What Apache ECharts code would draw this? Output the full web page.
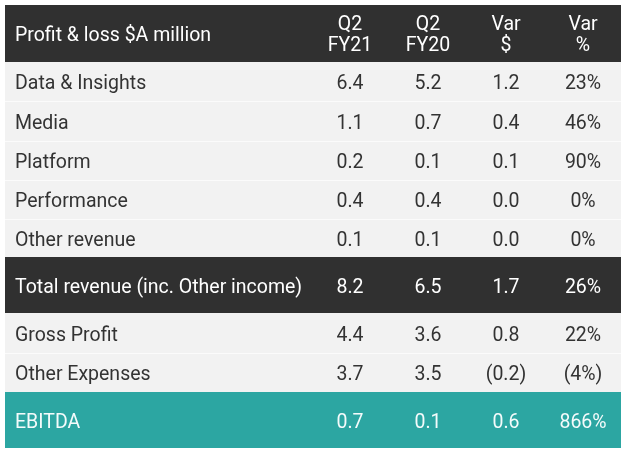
<!DOCTYPE html>
<html>
<head>
<meta charset="utf-8">
<script src="https://cdn.jsdelivr.net/npm/echarts@6/dist/echarts.min.js"></script>
<style>
html,body{margin:0;padding:0;background:#fff;}
#main{width:630px;height:456px;}
</style>
</head>
<body>
<div id="main"></div>
<script>
// ---- data ----
var headerLabel = 'Profit & loss $A million';
var columnHeaders = ['Q2\nFY21', 'Q2\nFY20', 'Var\n$', 'Var\n%'];
var rowLabels = ['Data & Insights', 'Media', 'Platform', 'Performance', 'Other revenue',
  'Total revenue (inc. Other income)', 'Gross Profit', 'Other Expenses', 'EBITDA'];
var q2fy21 = ['6.4', '1.1', '0.2', '0.4', '0.1', '8.2', '4.4', '3.7', '0.7'];
var q2fy20 = ['5.2', '0.7', '0.1', '0.4', '0.1', '6.5', '3.6', '3.5', '0.1'];
var varDollar = ['1.2', '0.4', '0.1', '0.0', '0.0', '1.7', '0.8', '(0.2)', '0.6'];
var varPct = ['23%', '46%', '90%', '0%', '0%', '26%', '22%', '(4%)', '866%'];
var rowKinds = ['normal', 'normal', 'normal', 'normal', 'normal', 'total', 'normal', 'normal', 'ebitda'];

// ---- layout (styles) ----
var colEdges = [0, 306, 384, 462, 540, 616];
var headerH = 57;
var rowHeights = [39, 40, 39, 39, 38, 56, 40, 39, 56];
var styles = {
  header: { bg: '#303030', fg: '#ffffff' },
  normal: { bg: '#f2f2f2', fg: '#333333' },
  total: { bg: '#303030', fg: '#ffffff' },
  ebitda: { bg: '#2ca6a2', fg: '#f4fbfb' }
};
var FONT = 'Roboto, "Liberation Sans", sans-serif';
var FS = 19.5;

var rowTops = [];
var acc = headerH;
for (var i = 0; i < rowHeights.length; i++) { rowTops.push(acc); acc += rowHeights[i]; }
var totalH = acc;

var rows = [];
rows.push({ kind: 'header', cells: [headerLabel].concat(columnHeaders), top: 0, h: headerH });
for (var r = 0; r < rowLabels.length; r++) {
  rows.push({ kind: rowKinds[r], cells: [rowLabels[r], q2fy21[r], q2fy20[r], varDollar[r], varPct[r]], top: rowTops[r], h: rowHeights[r] });
}

function renderRow(params, api) {
  var row = rows[api.value(0)];
  var st = styles[row.kind];
  var p0 = api.coord([colEdges[0], row.top]);
  var p1 = api.coord([colEdges[colEdges.length - 1], row.top + row.h]);
  var children = [{
    type: 'rect',
    shape: { x: p0[0], y: p0[1], width: p1[0] - p0[0], height: p1[1] - p0[1] },
    style: { fill: st.bg }
  }];
  var prev = rows[api.value(0) - 1];
  if (row.kind === 'normal' && prev && prev.kind === 'normal') {
    children.push({
      type: 'line',
      shape: { x1: p0[0], y1: p0[1] + 0.5, x2: p1[0], y2: p0[1] + 0.5 },
      style: { stroke: '#fbfbfb', lineWidth: 1 }
    });
  }
  var cy = (p0[1] + p1[1]) / 2;
  for (var c = 0; c < row.cells.length; c++) {
    var x;
    var align;
    if (c === 0) {
      x = p0[0] + 10; align = 'left';
    } else {
      x = (api.coord([colEdges[c], 0])[0] + api.coord([colEdges[c + 1], 0])[0]) / 2; align = 'center';
    }
    children.push({
      type: 'text',
      style: {
        x: x, y: cy + (row.kind === 'header' ? 2.5 : 3),
        text: row.cells[c],
        fill: st.fg,
        font: FS + 'px ' + FONT,
        align: align,
        verticalAlign: 'middle',
        lineHeight: 21
      }
    });
  }
  return { type: 'group', children: children };
}

var chart = echarts.init(document.getElementById('main'), null, { renderer: 'canvas' });
chart.setOption({
  animation: false,
  backgroundColor: '#ffffff',
  grid: { left: 5, right: 9, top: 5, bottom: 456 - 5 - totalH, containLabel: false },
  xAxis: { type: 'value', min: 0, max: colEdges[colEdges.length - 1], show: false },
  yAxis: { type: 'value', min: 0, max: totalH, inverse: true, show: false },
  series: [{
    type: 'custom',
    renderItem: renderRow,
    data: rows.map(function (d, i) { return [i]; }),
    encode: { x: [], y: [] },
    silent: true
  }]
});
</script>
</body>
</html>
